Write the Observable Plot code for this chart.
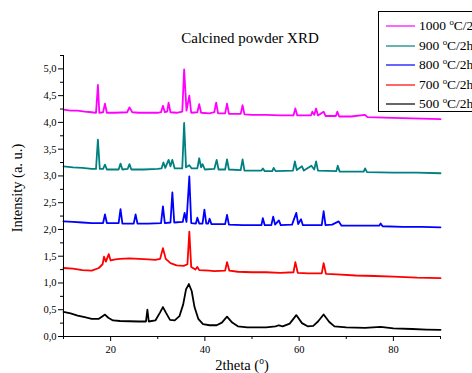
<!DOCTYPE html>
<html>
<head>
<meta charset="utf-8">
<script src="https://cdn.jsdelivr.net/npm/d3@7"></script>
<script src="https://cdn.jsdelivr.net/npm/@observablehq/plot@0.6"></script>
<style>
  body { margin: 0; overflow: hidden; background: #fff; }
  #wrap { position: relative; width: 472px; height: 373px; overflow: hidden; font-family: "Liberation Serif", serif; }
  .t { position: absolute; white-space: nowrap; color: #000; }
  sup { font-size: 0.65em; vertical-align: 0.6em; line-height: 0; }
  #legend { position: absolute; left: 378px; top: 11px; width: 130px; height: 99px; border: 1px solid #000; background: #fff; }
  .row { position: absolute; left: 7px; height: 16px; display: flex; align-items: center; font-size: 13.5px; }
  .row svg { margin-right: 4px; }
</style>
</head>
<body>
<div id="wrap"></div>
<script>
const seriesNames = ["1000 °C/2h", "900 °C/2h", "800 °C/2h", "700 °C/2h", "500 °C/2h"];
const seriesColors = ["#ff00ff", "#008080", "#0000ff", "#ff0000", "#000000"];
const xMajorTicks = [20, 40, 60, 80];
const xMinorTicks = [10, 30, 50, 70, 90];
const yMajorTicks = [0, 0.5, 1, 1.5, 2, 2.5, 3, 3.5, 4, 4.5, 5];
const yMinorTicks = [0.25, 0.75, 1.25, 1.75, 2.25, 2.75, 3.25, 3.75, 4.25, 4.75, 5.25];

const s1000 = [[10,4.24],[11.5,4.22],[13,4.22],[14.5,4.20],[16,4.19],[16.9,4.18],[17.3,4.70],[17.6,4.18],[18.4,4.19],[18.8,4.35],[19.2,4.18],[21,4.18],[23.5,4.19],[24,4.28],[24.6,4.19],[26,4.18],[28,4.18],[30,4.18],[30.7,4.19],[31.1,4.31],[31.5,4.19],[32,4.20],[32.3,4.37],[32.7,4.19],[34,4.18],[35.2,4.2],[35.6,4.99],[36.1,4.22],[36.7,4.50],[37.1,4.18],[38.4,4.19],[38.8,4.34],[39.2,4.18],[41,4.17],[42,4.19],[42.4,4.37],[42.8,4.17],[44.3,4.17],[44.7,4.35],[45.1,4.16],[47.6,4.16],[48,4.32],[48.4,4.15],[50,4.14],[53,4.14],[56,4.13],[58.8,4.13],[59.2,4.26],[59.6,4.13],[62.5,4.13],[62.8,4.20],[63.2,4.14],[63.6,4.26],[64,4.13],[65.2,4.2],[65.6,4.12],[67.8,4.12],[68.1,4.2],[68.5,4.11],[71,4.11],[74,4.14],[74.5,4.10],[78,4.09],[82,4.08],[86,4.07],[90,4.06]];
const s900 = [[10,3.18],[12,3.16],[14,3.15],[16,3.13],[16.9,3.13],[17.3,3.68],[17.7,3.13],[18.4,3.13],[18.8,3.21],[19.2,3.12],[21.7,3.12],[22.1,3.23],[22.5,3.12],[23.6,3.13],[24,3.22],[24.4,3.12],[27,3.12],[30,3.13],[30.8,3.14],[31.2,3.25],[31.6,3.15],[32.3,3.30],[32.7,3.18],[33.1,3.30],[33.6,3.14],[35.2,3.14],[35.6,3.99],[36.0,3.16],[36.7,3.20],[37.2,3.14],[38.4,3.14],[38.8,3.33],[39.2,3.16],[39.5,3.22],[40,3.12],[42,3.13],[42.5,3.30],[42.9,3.12],[44.3,3.12],[44.7,3.31],[45.1,3.12],[47.6,3.11],[48,3.31],[48.4,3.1],[50,3.10],[52,3.10],[52.3,3.14],[52.7,3.09],[54.3,3.09],[54.6,3.15],[55,3.09],[58.7,3.10],[59.1,3.27],[59.5,3.11],[60.6,3.18],[61,3.10],[62.6,3.19],[63.2,3.12],[63.6,3.27],[64,3.10],[67.9,3.09],[68.2,3.19],[68.6,3.08],[73.7,3.08],[74,3.14],[74.4,3.07],[80,3.06],[85,3.06],[90,3.05]];
const s800 = [[10,2.15],[12,2.14],[14,2.13],[16,2.12],[18.4,2.12],[18.8,2.28],[19.2,2.12],[21.7,2.12],[22.1,2.38],[22.5,2.11],[24.9,2.11],[25.3,2.28],[25.7,2.11],[28,2.11],[30.7,2.12],[31.1,2.43],[31.5,2.12],[32.7,2.13],[33.1,2.69],[33.5,2.13],[35.3,2.14],[35.7,2.31],[36.1,2.14],[36.7,2.99],[37.1,2.12],[38.1,2.11],[38.4,2.22],[38.8,2.11],[39.5,2.11],[39.9,2.37],[40.3,2.11],[40.7,2.11],[41.0,2.20],[41.4,2.10],[44.3,2.10],[44.7,2.27],[45.1,2.09],[48,2.08],[50,2.08],[52,2.08],[52.3,2.21],[52.7,2.08],[54.1,2.08],[54.5,2.24],[54.9,2.09],[55.7,2.17],[56.1,2.08],[58.5,2.09],[59.4,2.31],[59.8,2.10],[60.4,2.19],[60.8,2.08],[62,2.08],[64.8,2.08],[65.2,2.34],[65.6,2.08],[67,2.09],[68.4,2.15],[69,2.07],[73,2.07],[77,2.07],[77.3,2.11],[77.7,2.06],[82,2.05],[86,2.05],[90,2.04]];
const s700 = [[10,1.28],[12,1.27],[14,1.24],[16,1.23],[17.5,1.28],[18.3,1.35],[18.6,1.49],[19.0,1.40],[19.6,1.54],[20.0,1.42],[21,1.44],[22,1.45],[24,1.46],[26,1.45],[28,1.44],[29.5,1.43],[30.5,1.45],[31.1,1.65],[31.7,1.45],[32.7,1.37],[34,1.33],[35.5,1.32],[36.3,1.35],[36.7,1.96],[37.1,1.30],[38,1.25],[38.4,1.30],[38.8,1.24],[41,1.23],[42,1.22],[44.3,1.23],[44.7,1.39],[45.2,1.23],[47,1.21],[50,1.20],[53,1.20],[56,1.19],[58.8,1.20],[59.2,1.39],[59.7,1.19],[62,1.18],[64.8,1.18],[65.2,1.37],[65.7,1.17],[68,1.16],[72,1.14],[76,1.13],[80,1.12],[85,1.10],[90,1.09]];
const s500 = [[10,0.46],[11.5,0.43],[13,0.39],[14.5,0.36],[16,0.33],[17.5,0.33],[18.3,0.38],[18.8,0.41],[19.5,0.35],[20.5,0.30],[22,0.29],[24,0.285],[26,0.28],[27.5,0.28],[27.8,0.50],[28.1,0.28],[29.5,0.30],[30.5,0.45],[31.1,0.55],[31.7,0.45],[32.6,0.31],[33.6,0.30],[34.6,0.38],[35.4,0.60],[36.0,0.88],[36.6,0.98],[37.2,0.85],[37.8,0.55],[38.6,0.33],[39.6,0.23],[41,0.21],[42.5,0.21],[43.6,0.26],[44.7,0.37],[45.8,0.26],[47,0.19],[49,0.17],[51,0.17],[53,0.17],[55,0.19],[55.7,0.21],[56.5,0.19],[58.0,0.24],[59.4,0.40],[60.6,0.25],[61.8,0.19],[63,0.20],[64,0.28],[65.2,0.41],[66.4,0.27],[67.5,0.19],[70,0.17],[74,0.16],[77.3,0.18],[80,0.15],[84,0.14],[87,0.13],[90,0.125]];

const allSeries = [s1000, s900, s800, s700, s500];
const data = allSeries.flatMap((s, i) => s.map(([x, y]) => ({x, y, name: seriesNames[i]})));
const fmt = d => d.toFixed(1).replace(".", ",");

const chart = Plot.plot({
  width: 472,
  height: 373,
  marginLeft: 63,
  marginRight: 32,
  marginTop: 55,
  marginBottom: 37,
  style: { fontFamily: "Liberation Serif, serif", fontSize: "10px", background: "transparent" },
  x: { domain: [10, 90] },
  y: { domain: [0, 5.25] },
  color: { domain: seriesNames, range: seriesColors },
  marks: [
    Plot.axisX({ ticks: xMajorTicks, tickSize: 5, tickPadding: 4, tickFormat: d => String(d), label: null, fontSize: 10.5 }),
    Plot.axisX({ ticks: xMinorTicks, tickSize: 3, tickFormat: () => "", label: null }),
    Plot.axisY({ ticks: yMajorTicks, tickSize: 5, tickPadding: 2, tickFormat: fmt, label: null, fontSize: 10.5 }),
    Plot.axisY({ ticks: yMinorTicks, tickSize: 3, tickFormat: () => "", label: null }),
    Plot.line(data, { x: "x", y: "y", z: "name", stroke: "name", strokeWidth: 1.8 }),
    Plot.ruleX([10], { stroke: "#000", strokeWidth: 1 }),
    Plot.ruleY([0], { stroke: "#000", strokeWidth: 1 })
  ]
});

const wrap = document.getElementById("wrap");
wrap.appendChild(chart);

function addText(html, style) {
  const d = document.createElement("div");
  d.className = "t";
  d.innerHTML = html;
  Object.assign(d.style, style);
  wrap.appendChild(d);
  return d;
}
addText("Calcined powder XRD", { left: "250px", top: "30px", fontSize: "15px", transform: "translateX(-50%)" });
addText("2theta (<sup>o</sup>)", { left: "242px", top: "357px", fontSize: "14.5px", transform: "translateX(-50%)" });
addText("Intensity (a. u.)", { left: "17px", top: "188px", fontSize: "14.5px", transform: "translate(-50%,-50%) rotate(-90deg)" });

const legend = document.createElement("div");
legend.id = "legend";
seriesNames.forEach((name, i) => {
  const r = document.createElement("div");
  r.className = "row";
  r.style.top = (6 + i * 19.6) + "px";
  const parts = name.split(" °");
  r.innerHTML = `<svg width="29" height="4"><line x1="0" x2="29" y1="2" y2="2" stroke="${seriesColors[i]}" stroke-width="1.2"/></svg><span>${parts[0]} <sup>o</sup>${parts[1]}</span>`;
  legend.appendChild(r);
});
wrap.appendChild(legend);
</script>
</body>
</html>
